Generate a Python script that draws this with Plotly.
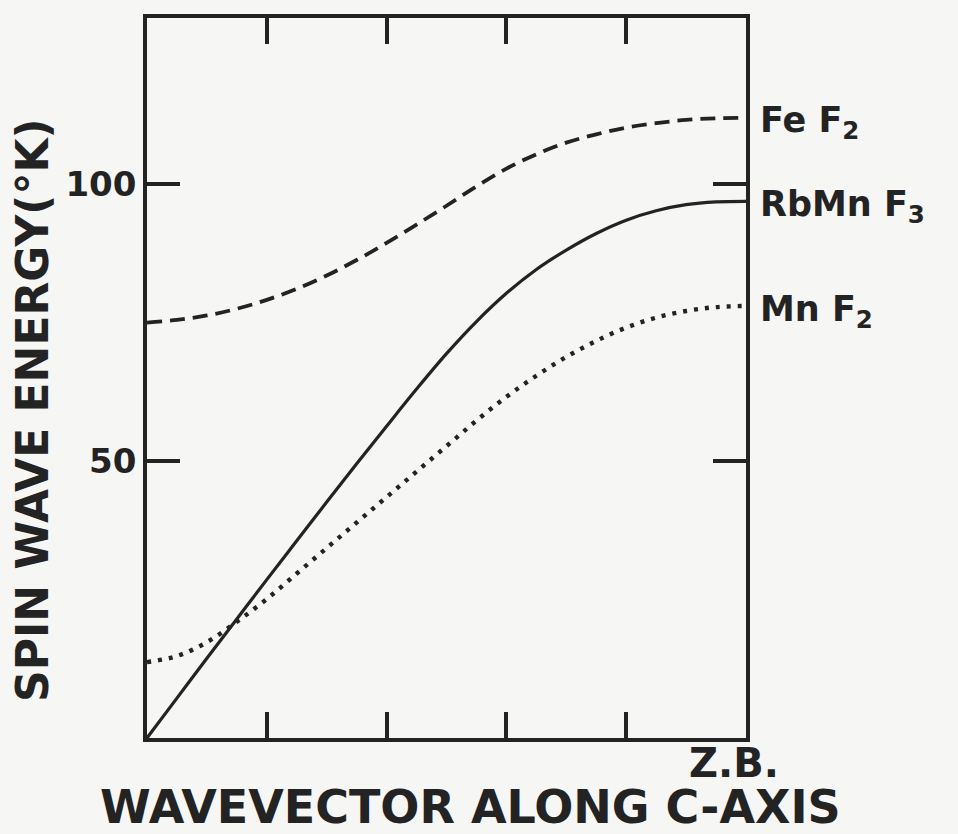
import plotly.graph_objects as go

# Wavevector along c-axis (0 = zone centre, 5 = zone boundary Z.B.)
q_fef2 = [0, 0.25, 0.5, 0.75, 1.0, 1.25, 1.5, 1.75, 2.0, 2.25, 2.5, 2.75, 3.0, 3.25, 3.5, 3.75, 4.0, 4.25, 4.5, 4.75, 5.0]
e_fef2 = [75.0, 75.5, 76.3, 77.5, 79.1, 81.1, 83.5, 86.3, 89.4, 92.7, 96.1, 99.6, 102.8, 105.4, 107.5, 109.0, 110.2, 111.0, 111.6, 111.9, 112.0]

q_rbmnf3 = [0, 0.25, 0.5, 0.75, 1.0, 1.25, 1.5, 1.75, 2.0, 2.25, 2.5, 2.75, 3.0, 3.25, 3.5, 3.75, 4.0, 4.25, 4.5, 4.75, 5.0]
e_rbmnf3 = [0, 7.2, 14.4, 21.5, 28.6, 35.6, 42.6, 49.5, 56.3, 63.0, 69.4, 75.2, 80.3, 84.6, 88.1, 91.1, 93.5, 95.2, 96.3, 96.8, 96.9]

q_mnf2 = [0, 0.25, 0.5, 0.75, 1.0, 1.25, 1.5, 1.75, 2.0, 2.25, 2.5, 2.75, 3.0, 3.25, 3.5, 3.75, 4.0, 4.25, 4.5, 4.75, 5.0]
e_mnf2 = [13.7, 14.8, 17.3, 21.0, 25.1, 29.7, 34.3, 38.9, 43.5, 48.1, 52.7, 57.3, 61.6, 65.4, 68.8, 71.7, 74.1, 75.9, 77.1, 77.8, 78.0]

labels = ["Fe F<sub>2</sub>", "RbMn F<sub>3</sub>", "Mn F<sub>2</sub>"]
label_y = [e_fef2[-1], e_rbmnf3[-1], e_mnf2[-1]]

x_ticks = [1, 2, 3, 4]
y_ticks = [50, 100]
y_ticktext = ["<b>50</b>", "<b>100</b>"]

ink = "#232323"
paper = "#f6f6f4"
FONT = "DejaVu Sans"

fig = go.Figure()
fig.add_trace(go.Scatter(x=q_fef2, y=e_fef2, mode="lines", line=dict(color=ink, width=3.8, dash="15px,8px", shape="spline"), hoverinfo="skip"))
fig.add_trace(go.Scatter(x=q_rbmnf3, y=e_rbmnf3, mode="lines", line=dict(color=ink, width=3.2, shape="spline"), hoverinfo="skip"))
fig.add_trace(go.Scatter(x=q_mnf2, y=e_mnf2, mode="lines", line=dict(color=ink, width=4.4, dash="4px,7px", shape="spline"), hoverinfo="skip"))

for txt, yv in zip(labels, label_y):
    fig.add_annotation(x=1, xref="paper", y=yv, yref="y", text="<b>" + txt + "</b>", showarrow=False,
                       xanchor="left", yanchor="middle", xshift=12, yshift=-5,
                       font=dict(family=FONT, size=35, color=ink))

fig.add_annotation(x=(734 - 147) / 599.0, xref="paper", y=0, yref="paper", text="<b>Z.B.</b>", showarrow=False,
                   xanchor="center", yanchor="top", yshift=0,
                   font=dict(family=FONT, size=40, color=ink))

fig.add_annotation(x=(470 - 147) / 599.0, xref="paper", y=0, yref="paper", yanchor="top", xanchor="center",
                   yshift=-40, text="<b>WAVEVECTOR ALONG C-AXIS</b>", showarrow=False,
                   font=dict(family=FONT, size=46, color=ink))
fig.add_annotation(x=0, xref="paper", y=(738 - 410) / 720.0, yref="paper", xanchor="center", yanchor="middle",
                   xshift=-115, text="<b>SPIN WAVE ENERGY(°K)</b>", textangle=-90, showarrow=False,
                   font=dict(family=FONT, size=44, color=ink))

fig.update_xaxes(range=[0, 5], showline=True, linewidth=3.6, linecolor=ink, mirror="ticks",
                 ticks="inside", tickvals=x_ticks, ticklen=26, tickwidth=3.6, tickcolor=ink,
                 showticklabels=False, showgrid=False, zeroline=False)
fig.update_yaxes(range=[0, 130], showline=True, linewidth=3.6, linecolor=ink, mirror="ticks",
                 ticks="inside", tickvals=y_ticks, ticktext=y_ticktext, ticklen=33, tickwidth=3.6, tickcolor=ink,
                 tickfont=dict(family=FONT, size=34, color=ink), showgrid=False, zeroline=False)

fig.update_layout(width=958, height=834, showlegend=False,
                  margin=dict(l=147, r=212, t=18, b=96, pad=0),
                  paper_bgcolor=paper, plot_bgcolor=paper,
                  font=dict(family=FONT, color=ink))

fig.write_html("out.html")
